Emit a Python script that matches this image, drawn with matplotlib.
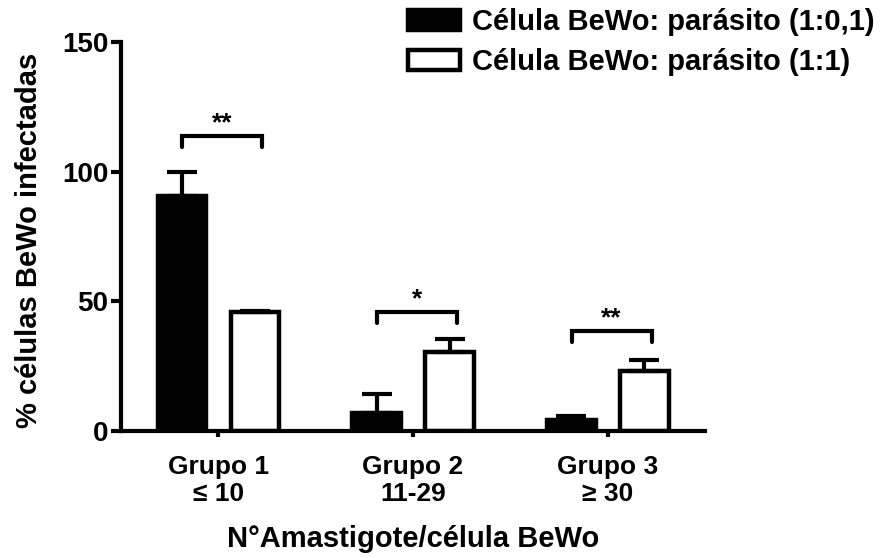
import matplotlib
matplotlib.use("Agg")
import matplotlib.pyplot as plt
import numpy as np

plt.rcParams['font.family'] = ['Liberation Sans', 'DejaVu Sans']
plt.rcParams['font.weight'] = 'bold'

# infected BeWo cells (%) per amastigote group, mean and upper SEM
groups = ['Grupo 1\n≤ 10', 'Grupo 2\n11-29', 'Grupo 3\n≥ 30']
ratio_low = [90.5, 6.8, 4.2]
ratio_low_err = [9.5, 7.5, 1.7]
ratio_high = [45.8, 30.5, 23.1]
ratio_high_err = [0.5, 4.8, 4.2]
series_names = ['Célula BeWo: parásito (1:0,1)', 'Célula BeWo: parásito (1:1)']

# significance brackets
bracket_tops = [113.6, 45.7, 38.5]
bracket_marks = ['**', '*', '**']

fig = plt.figure(figsize=(8.88, 5.58), dpi=100)
ax = fig.add_axes([0.1363, 0.2276, 0.6577, 0.6971])

x = np.arange(len(groups))
off = 0.1875
width = 0.25
lw = 3.2

ax.bar(x - off, ratio_low, width, color='black', edgecolor='black',
       linewidth=lw, label=series_names[0], zorder=2)
ax.bar(x + off, ratio_high, width, color='white', edgecolor='black',
       linewidth=lw, label=series_names[1], zorder=2)

ekw = dict(fmt='none', ecolor='black', elinewidth=3, capsize=11,
           capthick=3, zorder=3)
ax.errorbar(x - off, ratio_low, yerr=[np.zeros(3), ratio_low_err], **ekw)
ax.errorbar(x + off, ratio_high, yerr=[np.zeros(3), ratio_high_err], **ekw)

for xi, top, mark in zip(x, bracket_tops, bracket_marks):
    x0, x1 = xi - 0.185, xi + 0.225
    ax.plot([x0, x0, x1, x1], [top - 4, top, top, top - 4], color='black',
            lw=3, solid_capstyle='round', solid_joinstyle='miter', zorder=3)
    ax.text((x0 + x1) / 2, top + 2.2, mark, ha='center', va='baseline',
            fontsize=19, fontweight='bold')

ax.set_xlim(-0.5, 2.5)
ax.set_ylim(0, 150)
ax.set_yticks([0, 50, 100, 150])
ax.set_xticks(x)
ax.set_xticklabels(groups, fontsize=19, fontweight='bold', linespacing=1.2)
ax.tick_params(axis='y', labelsize=20, width=3, length=7, pad=2)
ax.tick_params(axis='x', width=3, length=4, pad=13)
for lab in ax.get_yticklabels():
    lab.set_fontweight('bold')

for s in ['top', 'right']:
    ax.spines[s].set_visible(False)
for s in ['left', 'bottom']:
    ax.spines[s].set_linewidth(3)

ax.set_ylabel('% células BeWo infectadas', fontsize=21, fontweight='bold')
ax.yaxis.set_label_coords(-0.1336, 0.49)
ax.set_xlabel('N°Amastigote/célula BeWo', fontsize=21, fontweight='bold')
ax.xaxis.set_label_coords(0.5, -0.2416)

fig.legend(loc='upper left', bbox_to_anchor=(408 / 888, 1 - 8 / 558),
           frameon=False, handlelength=1.79, handleheight=0.69,
           handletextpad=0.42, labelspacing=0.42, borderpad=0,
           borderaxespad=0, prop={'weight': 'bold', 'size': 21})

fig.savefig('out.png', dpi=100)
